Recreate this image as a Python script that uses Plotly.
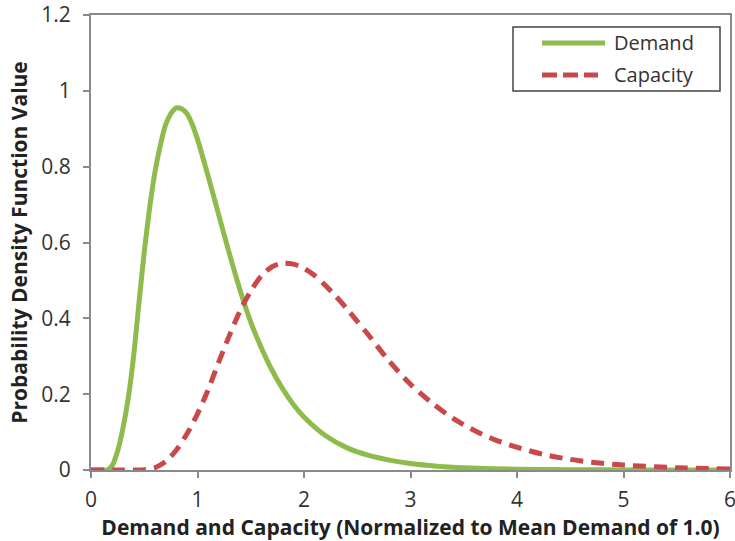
import plotly.graph_objects as go

# Values
demand_x = [0.0, 0.1, 0.15, 0.2, 0.25, 0.3, 0.35, 0.4, 0.45, 0.5, 0.55, 0.6, 0.65, 0.7,
            0.75, 0.8, 0.85, 0.9, 0.95, 1.0, 1.1, 1.2, 1.3, 1.4, 1.5, 1.6, 1.7, 1.8,
            1.9, 2.0, 2.2, 2.4, 2.6, 2.8, 3.0, 3.25, 3.5, 4.0, 4.5, 5.0, 6.0]
demand_y = [0.0, 0.0, 0.0, 0.012, 0.05, 0.11, 0.19, 0.30, 0.44, 0.575, 0.69, 0.785, 0.855, 0.91,
            0.94, 0.955, 0.953, 0.94, 0.912, 0.872, 0.775, 0.672, 0.57, 0.474, 0.39, 0.322, 0.263, 0.214,
            0.173, 0.14, 0.091, 0.059, 0.039, 0.026, 0.017, 0.010, 0.006, 0.002, 0.0008, 0.0003, 0.0001]

capacity_x = [0.0, 0.3, 0.5, 0.6, 0.7, 0.8, 0.9, 1.0, 1.1, 1.2, 1.3, 1.4, 1.5, 1.6,
              1.7, 1.8, 1.9, 2.0, 2.1, 2.2, 2.3, 2.4, 2.5, 2.6, 2.8, 3.0, 3.2, 3.4, 3.6,
              3.8, 4.0, 4.25, 4.5, 4.75, 5.0, 5.5, 6.0]
capacity_y = [0.0, 0.0, 0.001, 0.006, 0.022, 0.052, 0.095, 0.148, 0.212, 0.285, 0.355, 0.42, 0.472, 0.512,
              0.536, 0.545, 0.543, 0.532, 0.513, 0.487, 0.458, 0.426, 0.392, 0.358, 0.287, 0.226, 0.177, 0.136, 0.104,
              0.079, 0.06, 0.041, 0.028, 0.019, 0.013, 0.006, 0.0025]

x_ticks = [0, 1, 2, 3, 4, 5, 6]
y_ticks = [0, 0.2, 0.4, 0.6, 0.8, 1.0, 1.2]
y_tick_labels = ["0", "0.2", "0.4", "0.6", "0.8", "1", "1.2"]
series_names = ["Demand", "Capacity"]

GREEN = "#8DBB4C"
RED = "#C9484A"
AXIS = "#8A8A8A"
FONT = "Open Sans"
TXT = "#333333"

W, H = 735, 541
L, R, T, B = 91, 5, 15, 70.5
PW, PH = W - L - R, H - T - B


def px_to_paper(px, py):
    return (px - L) / PW, (H - B - py) / PH


fig = go.Figure()
fig.add_trace(go.Scatter(x=demand_x, y=demand_y, mode="lines", name=series_names[0],
                         line=dict(color=GREEN, width=5, shape="spline", smoothing=0.8)))
fig.add_trace(go.Scatter(x=capacity_x, y=capacity_y, mode="lines", name=series_names[1],
                         line=dict(color=RED, width=5, shape="spline", smoothing=0.8,
                                   dash="13px,8px")))

# Legend box drawn to match the reference (long line samples)
bx0, by0 = px_to_paper(513, 91)
bx1, by1 = px_to_paper(720, 27)
lx0, ly_d = px_to_paper(542, 43)
lx1_d, ly_c = px_to_paper(605, 75)
lx1_c, _ = px_to_paper(598, 75)
tx, _ = px_to_paper(612, 0)

shapes = [
    dict(type="rect", xref="paper", yref="paper", x0=bx0, x1=bx1, y0=by0, y1=by1,
         line=dict(color="#444444", width=1.5), fillcolor="white", layer="above"),
    dict(type="line", xref="paper", yref="paper", x0=lx0, x1=lx1_d, y0=ly_d, y1=ly_d,
         line=dict(color=GREEN, width=5), layer="above"),
    dict(type="line", xref="paper", yref="paper", x0=lx0, x1=lx1_c, y0=ly_c, y1=ly_c,
         line=dict(color=RED, width=5, dash="15px,6px"), layer="above"),
]
annotations = [
    dict(xref="paper", yref="paper", x=tx, y=ly_d, text=series_names[0], showarrow=False,
         xanchor="left", yanchor="middle", font=dict(family=FONT, size=20, color=TXT)),
    dict(xref="paper", yref="paper", x=tx, y=ly_c, text=series_names[1], showarrow=False,
         xanchor="left", yanchor="middle", font=dict(family=FONT, size=20, color=TXT)),
]

fig.update_layout(
    width=W, height=H,
    margin=dict(l=L, r=R, t=T, b=B, autoexpand=False),
    paper_bgcolor="white", plot_bgcolor="white",
    font=dict(family=FONT, size=20, color=TXT),
    showlegend=False,
    shapes=shapes,
    annotations=annotations,
)
fig.update_xaxes(range=[0, 6], tickvals=x_ticks, showgrid=False, zeroline=False,
                 showline=True, linecolor=AXIS, linewidth=2, mirror=True,
                 ticks="outside", ticklen=6, tickcolor=AXIS, tickwidth=1.5,
                 ticklabelstandoff=4, ticklabeloverflow="allow",
                 tickfont=dict(family=FONT, size=21, color=TXT),
                 title=dict(text="<b>Demand and Capacity (Normalized to Mean Demand of 1.0)</b>",
                            font=dict(family=FONT, size=21, color="#222222"), standoff=4))
fig.update_yaxes(range=[0, 1.2], tickvals=y_ticks, ticktext=y_tick_labels, showgrid=False,
                 zeroline=False, showline=True, linecolor=AXIS, linewidth=2, mirror=True,
                 ticks="outside", ticklen=6, tickcolor=AXIS, tickwidth=1.5,
                 ticklabelstandoff=8, ticklabeloverflow="allow",
                 tickfont=dict(family=FONT, size=21, color=TXT),
                 title=dict(text="<b>Probability Density Function Value</b>",
                            font=dict(family=FONT, size=21, color="#222222"), standoff=8))

# Remove the browser's default 8px body margin so the figure fills the window exactly
fig.write_html("out.html", config={"displayModeBar": False},
               post_script="document.body.style.margin='0px';")
